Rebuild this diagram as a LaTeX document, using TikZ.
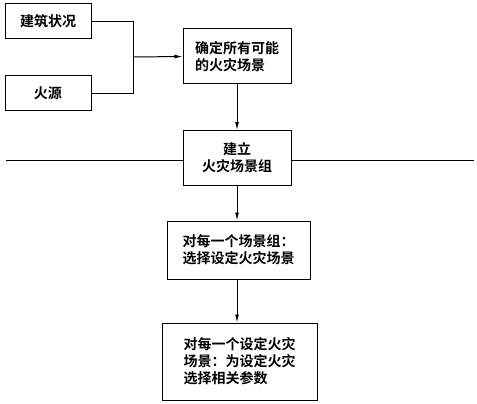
\documentclass[tikz,border=0pt]{standalone}
\usepackage{fontspec}
\newfontfamily\cjk{Noto Sans CJK SC}[BoldFont={Noto Sans CJK SC Bold}]
\usetikzlibrary{positioning,arrows.meta}

\begin{document}
\begin{tikzpicture}[x=1pt,y=1pt,line width=1pt,
  every node/.style={draw,align=left,inner sep=0pt,font=\cjk\bfseries\fontsize{14}{17}\selectfont},
  arr/.style={-{Latex[length=8pt,width=4pt]}}]
\useasboundingbox (0,0) rectangle (477,-404);
\node (bldg) [minimum width=86,minimum height=35] at (48,-21.5) {建筑状况};
\node (fire) [minimum width=86,minimum height=35] at (48,-93.5) {火源};
\node (scen) [minimum width=108,minimum height=55] at (237,-56.5) {确定所有可能\\的火灾场景};
\node (group) [minimum width=108,minimum height=55,align=center] at (237,-158) {建立\\火灾场景组};
\node (pick) [minimum width=143,minimum height=58] at (238.5,-250) {对每一个场景组：\\选择设定火灾场景};
\node (param) [minimum width=155,minimum height=77] at (239.5,-361.5) {对每一个设定火灾\\场景：为设定火灾\\选择相关参数};

\coordinate (join) at (133,-57);
\coordinate (lend) at (6,-160);
\coordinate (rend) at (474,-160);

\draw (bldg.east) -| (join);
\draw (fire.east) -| (join);
\draw [arr] (join) -- (scen.west);
\draw [arr] (scen) -- (group);
\draw [arr] (group.south) -- (group.south |- pick.north);
\draw [arr] (pick.south -| group.south) -- (group.south |- param.north);
\draw (lend) -- (lend -| group.west)
      (rend) -- (rend -| group.east);
\end{tikzpicture}
\end{document}
